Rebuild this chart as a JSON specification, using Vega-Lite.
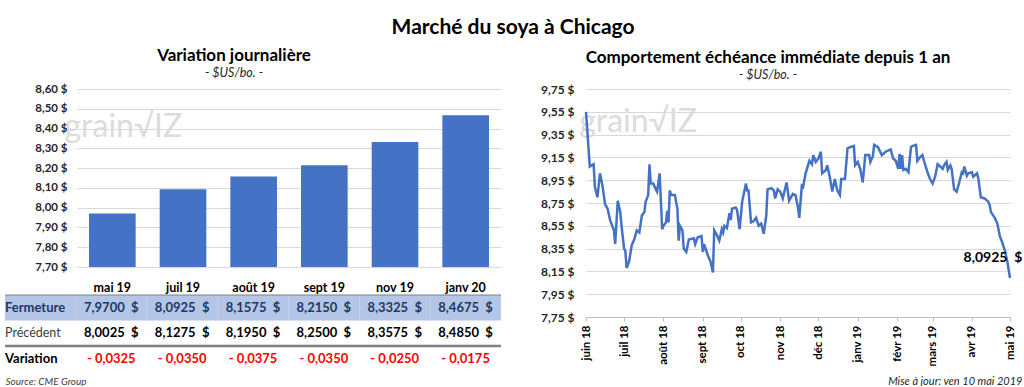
{
  "$schema": "https://vega.github.io/schema/vega-lite/v6.json",
  "background": "white",
  "padding": {"left": 3, "top": 16, "right": 5, "bottom": 0},
  "datasets": {
    "contrats": [
      {"contrat": "mai 19", "Fermeture": 7.97, "Précédent": 8.0025, "Variation": -0.0325},
      {"contrat": "juil 19", "Fermeture": 8.0925, "Précédent": 8.1275, "Variation": -0.035},
      {"contrat": "août 19", "Fermeture": 8.1575, "Précédent": 8.195, "Variation": -0.0375},
      {"contrat": "sept 19", "Fermeture": 8.215, "Précédent": 8.25, "Variation": -0.035},
      {"contrat": "nov 19", "Fermeture": 8.3325, "Précédent": 8.3575, "Variation": -0.025},
      {"contrat": "janv 20", "Fermeture": 8.4675, "Précédent": 8.485, "Variation": -0.0175}
    ],
    "soya": [
      {"date": "2018-06-10", "prix": 9.55}, {"date": "2018-06-13", "prix": 9.07}, {"date": "2018-06-16", "prix": 9.09}, {"date": "2018-06-17", "prix": 8.89},
      {"date": "2018-06-19", "prix": 8.80}, {"date": "2018-06-21", "prix": 9.01}, {"date": "2018-06-23", "prix": 8.90}, {"date": "2018-06-25", "prix": 8.74},
      {"date": "2018-06-27", "prix": 8.70}, {"date": "2018-06-29", "prix": 8.60}, {"date": "2018-07-02", "prix": 8.51}, {"date": "2018-07-03", "prix": 8.39},
      {"date": "2018-07-05", "prix": 8.77}, {"date": "2018-07-07", "prix": 8.67}, {"date": "2018-07-08", "prix": 8.55}, {"date": "2018-07-10", "prix": 8.35},
      {"date": "2018-07-11", "prix": 8.33}, {"date": "2018-07-12", "prix": 8.18}, {"date": "2018-07-14", "prix": 8.24}, {"date": "2018-07-16", "prix": 8.38},
      {"date": "2018-07-18", "prix": 8.43}, {"date": "2018-07-20", "prix": 8.51}, {"date": "2018-07-22", "prix": 8.49}, {"date": "2018-07-24", "prix": 8.64},
      {"date": "2018-07-26", "prix": 8.67}, {"date": "2018-07-27", "prix": 8.76}, {"date": "2018-07-28", "prix": 8.79}, {"date": "2018-07-29", "prix": 8.82},
      {"date": "2018-07-30", "prix": 9.09}, {"date": "2018-07-31", "prix": 8.92}, {"date": "2018-08-02", "prix": 8.92}, {"date": "2018-08-04", "prix": 8.87},
      {"date": "2018-08-05", "prix": 8.85}, {"date": "2018-08-07", "prix": 9.01}, {"date": "2018-08-09", "prix": 8.52}, {"date": "2018-08-10", "prix": 8.55},
      {"date": "2018-08-12", "prix": 8.58}, {"date": "2018-08-13", "prix": 8.68}, {"date": "2018-08-14", "prix": 8.58}, {"date": "2018-08-15", "prix": 8.86},
      {"date": "2018-08-16", "prix": 8.82}, {"date": "2018-08-19", "prix": 8.82}, {"date": "2018-08-21", "prix": 8.70}, {"date": "2018-08-22", "prix": 8.42},
      {"date": "2018-08-23", "prix": 8.55}, {"date": "2018-08-25", "prix": 8.51}, {"date": "2018-08-26", "prix": 8.35}, {"date": "2018-08-28", "prix": 8.32},
      {"date": "2018-08-30", "prix": 8.43}, {"date": "2018-09-03", "prix": 8.44}, {"date": "2018-09-04", "prix": 8.39}, {"date": "2018-09-06", "prix": 8.45},
      {"date": "2018-09-09", "prix": 8.46}, {"date": "2018-09-10", "prix": 8.32}, {"date": "2018-09-11", "prix": 8.39}, {"date": "2018-09-14", "prix": 8.29},
      {"date": "2018-09-16", "prix": 8.24}, {"date": "2018-09-18", "prix": 8.14}, {"date": "2018-09-19", "prix": 8.51}, {"date": "2018-09-21", "prix": 8.47},
      {"date": "2018-09-23", "prix": 8.42}, {"date": "2018-09-25", "prix": 8.52}, {"date": "2018-09-26", "prix": 8.49}, {"date": "2018-09-27", "prix": 8.55},
      {"date": "2018-09-29", "prix": 8.53}, {"date": "2018-10-01", "prix": 8.66}, {"date": "2018-10-02", "prix": 8.60}, {"date": "2018-10-03", "prix": 8.70},
      {"date": "2018-10-06", "prix": 8.71}, {"date": "2018-10-07", "prix": 8.69}, {"date": "2018-10-09", "prix": 8.52}, {"date": "2018-10-11", "prix": 8.76},
      {"date": "2018-10-14", "prix": 8.92}, {"date": "2018-10-15", "prix": 8.86}, {"date": "2018-10-16", "prix": 8.86}, {"date": "2018-10-18", "prix": 8.58},
      {"date": "2018-10-20", "prix": 8.59}, {"date": "2018-10-22", "prix": 8.62}, {"date": "2018-10-24", "prix": 8.55}, {"date": "2018-10-26", "prix": 8.57},
      {"date": "2018-10-28", "prix": 8.48}, {"date": "2018-10-30", "prix": 8.64}, {"date": "2018-10-31", "prix": 8.87}, {"date": "2018-11-03", "prix": 8.88},
      {"date": "2018-11-05", "prix": 8.86}, {"date": "2018-11-06", "prix": 8.79}, {"date": "2018-11-08", "prix": 8.87}, {"date": "2018-11-10", "prix": 8.85},
      {"date": "2018-11-12", "prix": 8.79}, {"date": "2018-11-15", "prix": 8.93}, {"date": "2018-11-17", "prix": 8.77}, {"date": "2018-11-20", "prix": 8.83},
      {"date": "2018-11-22", "prix": 8.82}, {"date": "2018-11-24", "prix": 8.71}, {"date": "2018-11-25", "prix": 8.62}, {"date": "2018-11-27", "prix": 8.90},
      {"date": "2018-11-28", "prix": 8.89}, {"date": "2018-11-30", "prix": 9.01}, {"date": "2018-12-03", "prix": 9.12}, {"date": "2018-12-05", "prix": 9.09},
      {"date": "2018-12-06", "prix": 9.17}, {"date": "2018-12-08", "prix": 9.11}, {"date": "2018-12-10", "prix": 9.14}, {"date": "2018-12-12", "prix": 9.20},
      {"date": "2018-12-13", "prix": 9.01}, {"date": "2018-12-16", "prix": 9.04}, {"date": "2018-12-17", "prix": 9.08}, {"date": "2018-12-19", "prix": 8.98},
      {"date": "2018-12-21", "prix": 8.85}, {"date": "2018-12-23", "prix": 8.96}, {"date": "2018-12-25", "prix": 8.86}, {"date": "2018-12-27", "prix": 8.82},
      {"date": "2018-12-28", "prix": 8.96}, {"date": "2018-12-31", "prix": 8.96}, {"date": "2019-01-02", "prix": 9.23}, {"date": "2019-01-04", "prix": 9.24},
      {"date": "2019-01-07", "prix": 9.25}, {"date": "2019-01-08", "prix": 9.08}, {"date": "2019-01-10", "prix": 9.11}, {"date": "2019-01-12", "prix": 9.05},
      {"date": "2019-01-14", "prix": 8.93}, {"date": "2019-01-16", "prix": 9.17}, {"date": "2019-01-19", "prix": 9.17}, {"date": "2019-01-20", "prix": 9.11},
      {"date": "2019-01-22", "prix": 9.16}, {"date": "2019-01-23", "prix": 9.26}, {"date": "2019-01-26", "prix": 9.24}, {"date": "2019-01-29", "prix": 9.17},
      {"date": "2019-02-01", "prix": 9.20}, {"date": "2019-02-05", "prix": 9.22}, {"date": "2019-02-07", "prix": 9.14}, {"date": "2019-02-09", "prix": 9.12},
      {"date": "2019-02-11", "prix": 9.05}, {"date": "2019-02-12", "prix": 9.18}, {"date": "2019-02-13", "prix": 9.05}, {"date": "2019-02-14", "prix": 9.17},
      {"date": "2019-02-15", "prix": 9.04}, {"date": "2019-02-17", "prix": 9.05}, {"date": "2019-02-19", "prix": 9.02}, {"date": "2019-02-21", "prix": 9.24},
      {"date": "2019-02-22", "prix": 9.25}, {"date": "2019-02-25", "prix": 9.26}, {"date": "2019-02-26", "prix": 9.12}, {"date": "2019-02-28", "prix": 9.15},
      {"date": "2019-03-02", "prix": 9.17}, {"date": "2019-03-04", "prix": 9.09}, {"date": "2019-03-06", "prix": 9.02}, {"date": "2019-03-08", "prix": 8.96},
      {"date": "2019-03-10", "prix": 8.92}, {"date": "2019-03-12", "prix": 8.98}, {"date": "2019-03-14", "prix": 9.09}, {"date": "2019-03-16", "prix": 9.07},
      {"date": "2019-03-18", "prix": 9.05}, {"date": "2019-03-19", "prix": 9.08}, {"date": "2019-03-21", "prix": 9.11}, {"date": "2019-03-22", "prix": 9.04},
      {"date": "2019-03-24", "prix": 9.08}, {"date": "2019-03-25", "prix": 9.05}, {"date": "2019-03-27", "prix": 8.87}, {"date": "2019-03-29", "prix": 8.85},
      {"date": "2019-03-31", "prix": 8.93}, {"date": "2019-04-02", "prix": 9.02}, {"date": "2019-04-03", "prix": 9.01}, {"date": "2019-04-04", "prix": 9.07},
      {"date": "2019-04-06", "prix": 8.99}, {"date": "2019-04-07", "prix": 9.01}, {"date": "2019-04-10", "prix": 9.02}, {"date": "2019-04-11", "prix": 8.98},
      {"date": "2019-04-13", "prix": 9.00}, {"date": "2019-04-14", "prix": 9.01}, {"date": "2019-04-15", "prix": 8.97}, {"date": "2019-04-17", "prix": 8.80},
      {"date": "2019-04-20", "prix": 8.79}, {"date": "2019-04-23", "prix": 8.76}, {"date": "2019-04-24", "prix": 8.73}, {"date": "2019-04-25", "prix": 8.67},
      {"date": "2019-04-28", "prix": 8.62}, {"date": "2019-04-30", "prix": 8.57}, {"date": "2019-05-02", "prix": 8.46}, {"date": "2019-05-04", "prix": 8.40},
      {"date": "2019-05-06", "prix": 8.33}, {"date": "2019-05-08", "prix": 8.23}, {"date": "2019-05-10", "prix": 8.0925}
    ]
  },
  "title": {"text": "Marché du soya à Chicago", "fontSize": 21, "fontWeight": "bold", "anchor": "middle", "offset": 9},
  "spacing": 37,
  "hconcat": [
    {
      "width": 424,
      "height": 178,
      "title": {"text": "Variation journalière", "subtitle": "- $US/bo. -", "fontSize": 17, "dx": -55, "dy": -2, "offset": 1, "subtitlePadding": 2},
      "layer": [
        {
          "layer": [
            {
              "data": {"name": "contrats"},
              "mark": {"type": "bar", "color": "#4472c4"},
              "encoding": {
                "x": {
                  "field": "contrat", "type": "nominal",
                  "scale": {"domain": ["mai 19", "juil 19", "août 19", "sept 19", "nov 19", "janv 20"], "paddingInner": 0.34, "paddingOuter": 0.17},
                  "axis": {
                    "labelAngle": 0, "labelFontWeight": "bold", "labelFontSize": 12.5, "labelPadding": 14, "labelColor": "#000000",
                    "title": "Source: CME Group", "titleX": -72, "titleY": 114, "titleAlign": "left", "titleBaseline": "middle",
                    "titleFontStyle": "italic", "titleFontWeight": "normal", "titleFontSize": 10, "titleColor": "#404040"
                  }
                },
                "y": {
                  "field": "Fermeture", "type": "quantitative",
                  "scale": {"domain": [7.7, 8.6], "nice": false, "zero": false},
                  "axis": {
                    "values": [7.7, 7.8, 7.9, 8.0, 8.1, 8.2, 8.3, 8.4, 8.5, 8.6], "tickCount": 30,
                    "labelExpr": "format(datum.value, '.2f') + ' $'", "labelOverlap": false,
                    "title": null, "grid": true, "labelFontWeight": "bold", "labelFontSize": 11.5, "labelPadding": 10, "labelColor": "#262626"
                  }
                },
                "y2": {"datum": 7.7}
              }
            },
            {
              "data": {"values": [{}]},
              "mark": {"type": "text", "text": "grain√IZ", "fontSize": 32, "color": "#dcdcdc", "dx": 11},
              "encoding": {
                "x": {"datum": "mai 19", "type": "nominal"},
                "y": {"datum": 8.41, "type": "quantitative"}
              }
            }
          ]
        },
        {
          "data": {"name": "contrats"},
          "layer": [
            {
              "mark": {"type": "rect", "color": "#b4c6e7"},
              "encoding": {
                "x": {"field": "contrat", "type": "nominal", "axis": null, "scale": {"type": "band", "domain": ["lib", "mai 19", "juil 19", "août 19", "sept 19", "nov 19", "janv 20"], "range": [-72, 424], "paddingInner": 0, "paddingOuter": 0}},
                "y": {"datum": "Fermeture", "type": "nominal", "axis": null, "scale": {"type": "band", "domain": ["Fermeture", "Précédent", "Variation"], "range": [206, 282.5], "paddingInner": 0, "paddingOuter": 0}}
              }
            },
            {
              "data": {"values": [{}]},
              "mark": {"type": "rect", "color": "#b4c6e7"},
              "encoding": {
                "x": {"datum": "lib", "type": "nominal", "axis": null},
                "y": {"datum": "Fermeture", "type": "nominal", "axis": null}
              }
            },
            {
              "data": {"values": [{}]},
              "mark": {"type": "rule", "color": "#7f7f7f", "strokeWidth": 1},
              "encoding": {
                "x": {"datum": "lib", "type": "nominal", "bandPosition": 0, "axis": null},
                "x2": {"datum": "janv 20", "bandPosition": 1},
                "y": {"datum": "Fermeture", "type": "nominal", "bandPosition": 0, "axis": null}
              }
            },
            {
              "data": {"values": [{}]},
              "mark": {"type": "rule", "color": "#7f7f7f", "strokeWidth": 2.5},
              "encoding": {
                "x": {"datum": "lib", "type": "nominal", "bandPosition": 0, "axis": null},
                "x2": {"datum": "janv 20", "bandPosition": 1},
                "y": {"datum": "Variation", "type": "nominal", "bandPosition": 0, "axis": null}
              }
            },
            {
              "transform": [{"fold": ["Fermeture", "Précédent"], "as": ["serie", "valeur"]}],
              "mark": {"type": "text", "fontSize": 13, "fontWeight": "bold"},
              "encoding": {
                "x": {"field": "contrat", "type": "nominal", "axis": null},
                "y": {"field": "serie", "type": "nominal", "axis": null},
                "text": {"field": "valeur", "type": "quantitative", "format": "$.4f"},
                "color": {"condition": {"test": "datum.serie === 'Fermeture'", "value": "#1f3864"}, "value": "#000000"}
              }
            },
            {
              "mark": {"type": "text", "fontSize": 13, "fontWeight": "bold", "color": "#ff0000"},
              "encoding": {
                "x": {"field": "contrat", "type": "nominal", "axis": null},
                "y": {"datum": "Variation", "type": "nominal", "axis": null},
                "text": {"field": "Variation", "type": "quantitative", "format": ".4f"}
              }
            },
            {
              "data": {"values": [{"ligne": "Fermeture"}, {"ligne": "Précédent"}, {"ligne": "Variation"}]},
              "transform": [{"filter": "datum.ligne !== 'Précédent'"}],
              "mark": {"type": "text", "fontSize": 13, "fontWeight": "bold", "align": "left"},
              "encoding": {
                "x": {"datum": "lib", "type": "nominal", "bandPosition": 0, "axis": null},
                "y": {"field": "ligne", "type": "nominal", "axis": null},
                "text": {"field": "ligne"},
                "color": {"condition": {"test": "datum.ligne === 'Fermeture'", "value": "#1f3864"}, "value": "#000000"}
              }
            },
            {
              "data": {"values": [{"ligne": "Fermeture"}, {"ligne": "Précédent"}, {"ligne": "Variation"}]},
              "transform": [{"filter": "datum.ligne === 'Précédent'"}],
              "mark": {"type": "text", "fontSize": 12.5, "align": "left", "color": "#404040"},
              "encoding": {
                "x": {"datum": "lib", "type": "nominal", "bandPosition": 0, "axis": null},
                "y": {"field": "ligne", "type": "nominal", "axis": null},
                "text": {"field": "ligne"}
              }
            }
          ]
        }
      ],
      "resolve": {"scale": {"x": "independent", "y": "independent"}, "axis": {"x": "independent", "y": "independent"}}
    },
    {
      "width": 424,
      "height": 228,
      "title": {"text": "Comportement échéance immédiate depuis 1 an", "subtitle": "- $US/bo. -", "fontSize": 17, "dx": -30, "offset": 1, "subtitlePadding": 2},
      "layer": [
        {
          "data": {"values": [{}]},
          "mark": {"type": "text", "text": "grain√IZ", "fontSize": 32, "color": "#dcdcdc"},
          "encoding": {
            "x": {"datum": {"year": 2018, "month": 7, "date": 21, "utc": true}, "type": "temporal"},
            "y": {"datum": 9.46, "type": "quantitative"}
          }
        },
        {
          "data": {"name": "soya"},
          "mark": {"type": "line", "color": "#4472c4", "strokeWidth": 2.5},
          "encoding": {
            "x": {
              "field": "date", "type": "temporal",
              "scale": {"type": "utc", "domain": [{"year": 2018, "month": 6, "date": 10, "utc": true}, {"year": 2019, "month": 5, "date": 10, "utc": true}]},
              "axis": {
                "values": [
                  {"year": 2018, "month": 6, "date": 10, "utc": true}, {"year": 2018, "month": 7, "date": 10, "utc": true},
                  {"year": 2018, "month": 8, "date": 10, "utc": true}, {"year": 2018, "month": 9, "date": 10, "utc": true},
                  {"year": 2018, "month": 10, "date": 10, "utc": true}, {"year": 2018, "month": 11, "date": 10, "utc": true},
                  {"year": 2018, "month": 12, "date": 10, "utc": true}, {"year": 2019, "month": 1, "date": 10, "utc": true},
                  {"year": 2019, "month": 2, "date": 10, "utc": true}, {"year": 2019, "month": 3, "date": 10, "utc": true},
                  {"year": 2019, "month": 4, "date": 10, "utc": true}, {"year": 2019, "month": 5, "date": 10, "utc": true}
                ],
                "tickCount": 30,
                "format": "%b %y", "labelAngle": 270, "labelFontWeight": "bold", "labelFontSize": 11.5, "labelColor": "#000000", "labelPadding": 4, "labelOverlap": false,
                "domain": true, "domainColor": "#bfbfbf", "ticks": true, "tickSize": 4, "tickColor": "#bfbfbf", "grid": false,
                "title": "Mise à jour: ven 10 mai 2019", "titleX": 436, "titleY": 64, "titleAlign": "right", "titleBaseline": "middle",
                "titleFontStyle": "italic", "titleFontWeight": "normal", "titleFontSize": 11, "titleColor": "#262626"
              }
            },
            "y": {
              "field": "prix", "type": "quantitative",
              "scale": {"domain": [7.75, 9.75], "nice": false, "zero": false},
              "axis": {
                "values": [7.75, 7.95, 8.15, 8.35, 8.55, 8.75, 8.95, 9.15, 9.35, 9.55, 9.75], "tickCount": 30,
                "labelExpr": "format(datum.value, '.2f') + ' $'", "labelOverlap": false,
                "title": null, "grid": true, "labelFontWeight": "bold", "labelFontSize": 12, "labelPadding": 12, "labelColor": "#262626"
              }
            }
          }
        },
        {
          "data": {"name": "soya"},
          "transform": [{"filter": {"field": "prix", "equal": 8.0925}}],
          "mark": {"type": "text", "fontSize": 14, "fontWeight": "bold", "dx": -17, "dy": -20, "color": "#000000"},
          "encoding": {
            "x": {"field": "date", "type": "temporal"},
            "y": {"field": "prix", "type": "quantitative"},
            "text": {"field": "prix", "type": "quantitative", "format": "$.4f"}
          }
        }
      ]
    }
  ],
  "config": {
    "font": "Lato",
    "view": {"stroke": null},
    "title": {"color": "#000000", "subtitleColor": "#262626", "subtitleFontStyle": "italic", "subtitleFontSize": 12.5, "subtitleFont": "Lato"},
    "axis": {"labelFont": "Lato", "titleFont": "Lato", "domain": false, "ticks": false, "gridColor": "#d9d9d9", "gridWidth": 1},
    "locale": {
      "number": {"decimal": ",", "thousands": "\u00a0", "grouping": [3], "currency": ["", "\u00a0\u00a0$"], "minus": "- "},
      "time": {
        "dateTime": "%A %e %B %Y à %X", "date": "%d/%m/%Y", "time": "%H:%M:%S", "periods": ["AM", "PM"],
        "days": ["dimanche", "lundi", "mardi", "mercredi", "jeudi", "vendredi", "samedi"],
        "shortDays": ["dim.", "lun.", "mar.", "mer.", "jeu.", "ven.", "sam."],
        "months": ["janvier", "février", "mars", "avril", "mai", "juin", "juillet", "août", "septembre", "octobre", "novembre", "décembre"],
        "shortMonths": ["janv", "févr", "mars", "avr", "mai", "juin", "juil", "août", "sept", "oct", "nov", "déc"]
      }
    }
  }
}
